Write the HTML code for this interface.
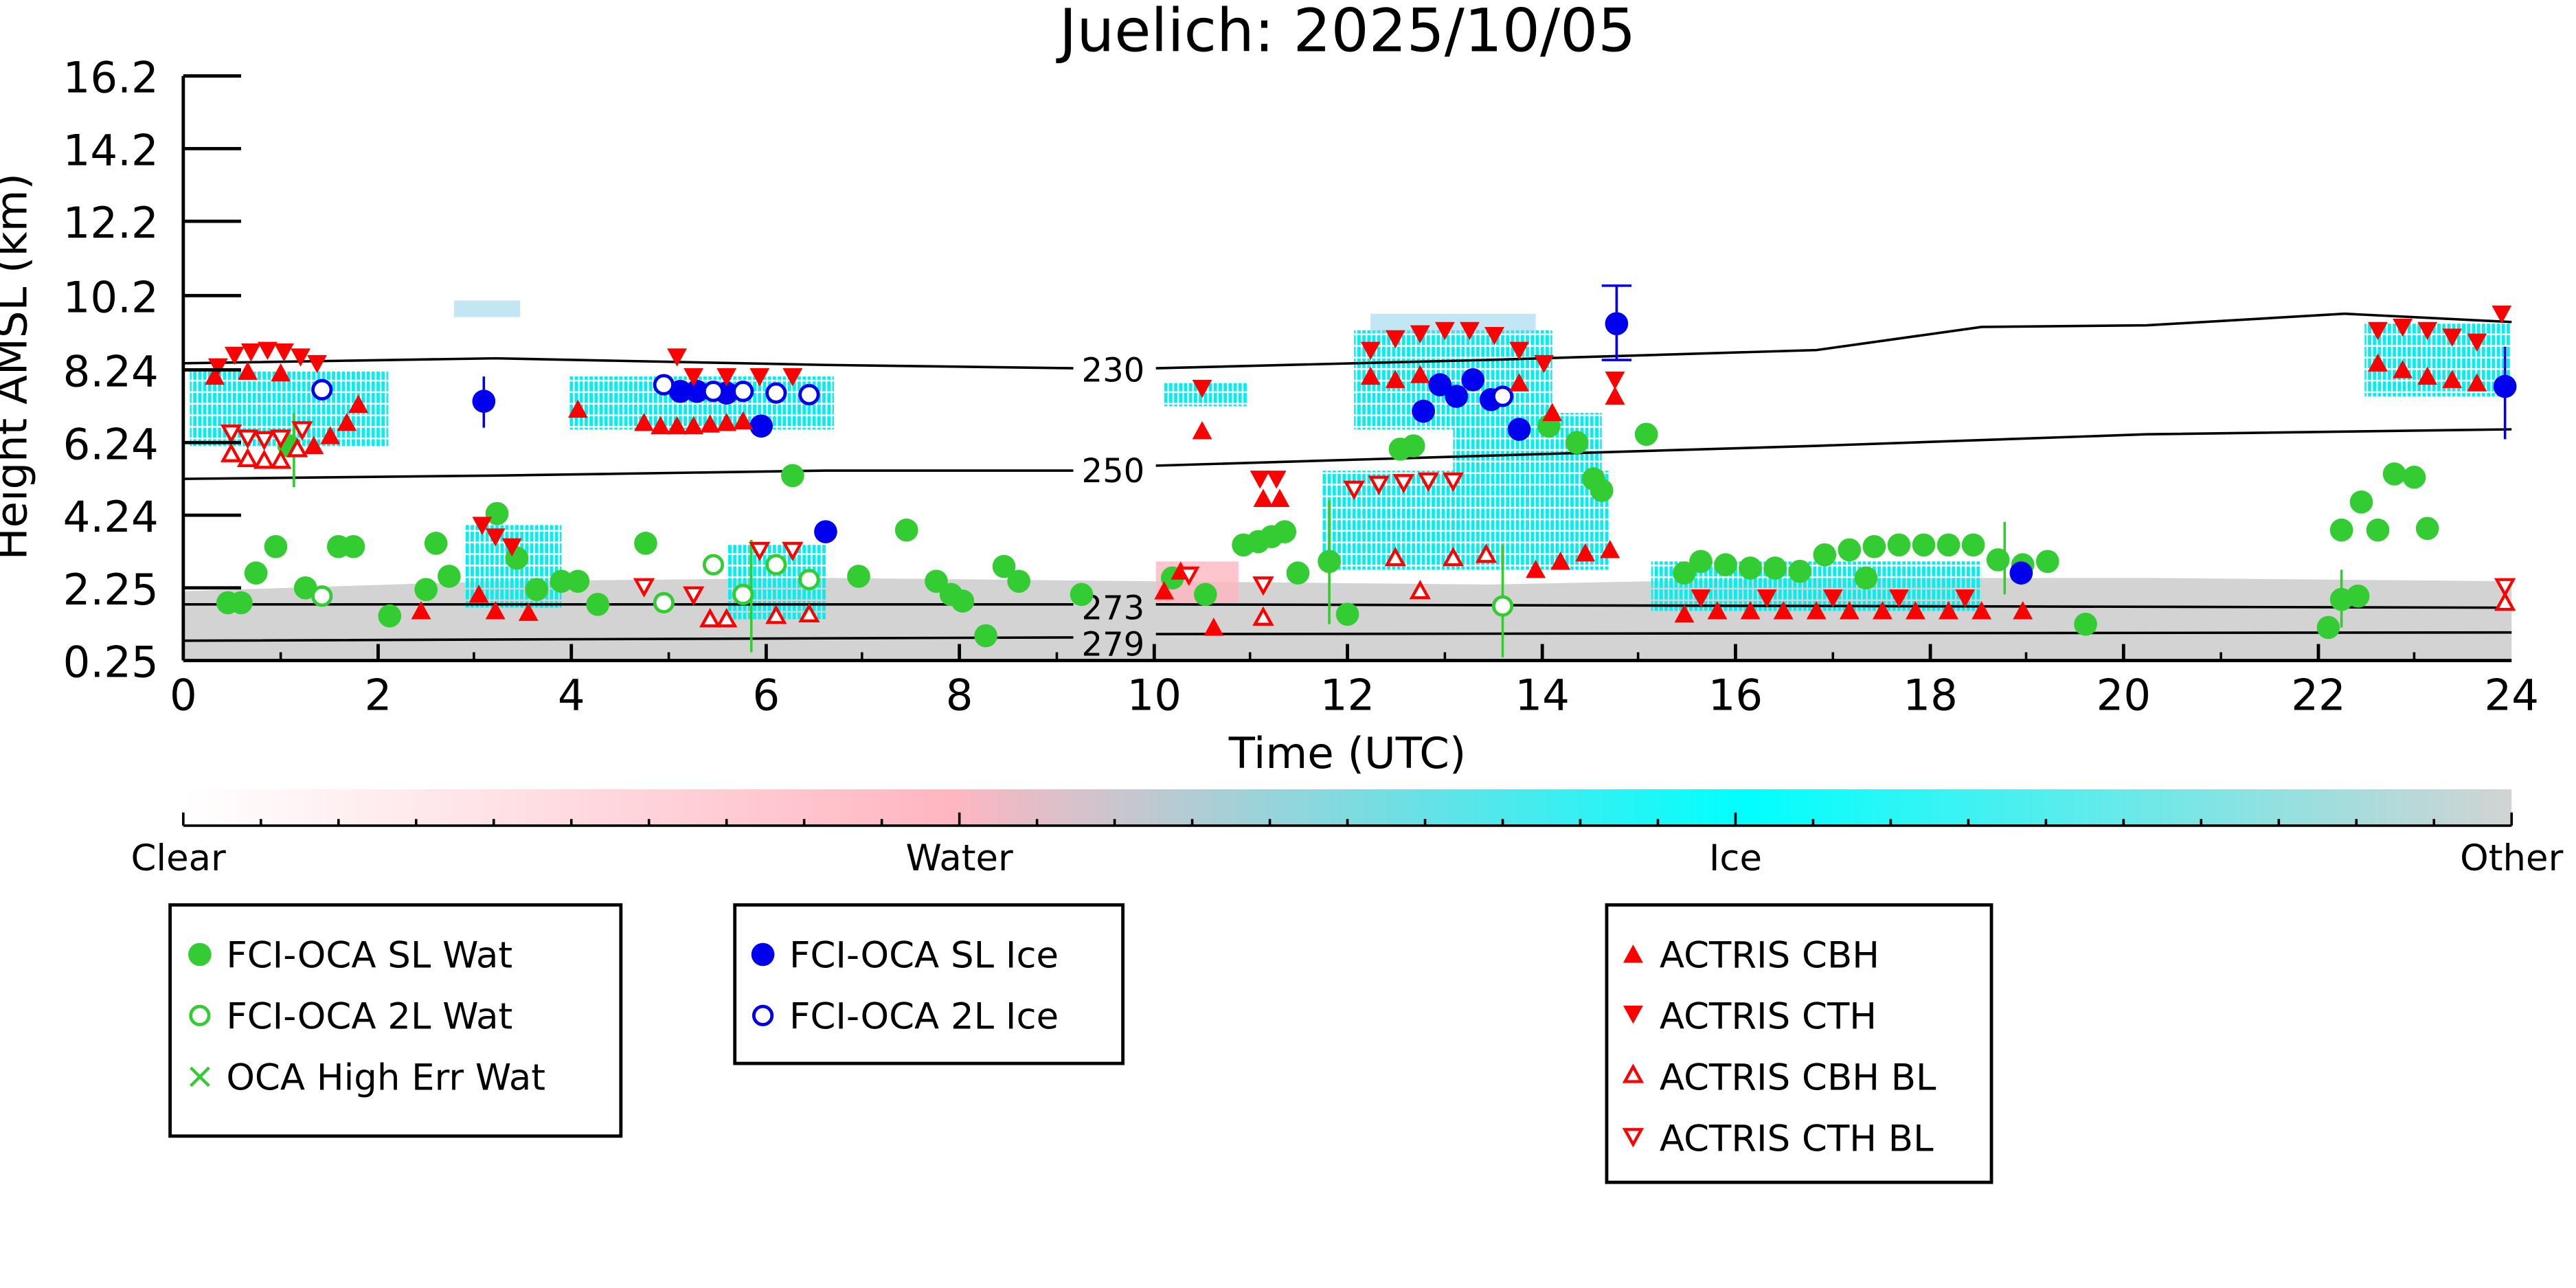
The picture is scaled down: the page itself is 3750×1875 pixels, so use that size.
<!DOCTYPE html>
<html><head><meta charset="utf-8"><style>
html,body{margin:0;padding:0;background:#fff}
svg{display:block}
text{font-family:"DejaVu Sans","Liberation Sans",sans-serif}
</style></head><body>
<svg width="3750" height="1875" viewBox="0 0 1560 780" xmlns="http://www.w3.org/2000/svg">
<defs>
<linearGradient id="cb" x1="0" x2="1" y1="0" y2="0">
<stop offset="0" stop-color="#ffffff"/><stop offset="0.33" stop-color="#ffb6c1"/>
<stop offset="0.67" stop-color="#00ffff"/><stop offset="1" stop-color="#d3d3d3"/></linearGradient>
<pattern id="cy" width="3" height="7" patternUnits="userSpaceOnUse">
<rect width="3" height="7" fill="#fff" opacity="0"/><rect width="2" height="6" fill="#00f0f0"/></pattern>
<circle id="gc" r="7" fill="#33cc33"/>
<circle id="go" r="5.5" fill="#fff" stroke="#33cc33" stroke-width="2"/>
<circle id="bc" r="7" fill="#0000ee"/>
<circle id="bo" r="5.5" fill="#fff" stroke="#0000ee" stroke-width="2"/>
<path id="rd" d="M-6,-5 L6,-5 L0,6 Z" fill="#f00"/>
<path id="ru" d="M-6,5 L6,5 L0,-6 Z" fill="#f00"/>
<path id="rdo" d="M-5,-4 L5,-4 L0,5 Z" fill="#fff" stroke="#f00" stroke-width="1.8"/>
<path id="ruo" d="M-5,4 L5,4 L0,-5 Z" fill="#fff" stroke="#f00" stroke-width="1.8"/>
</defs>
<text x="816" y="31" font-size="36" text-anchor="middle">Juelich: 2025/10/05</text>
<path d="M111,358 L300,352 L500,350 L700,352 L900,354 L1100,350 L1300,350 L1521,352 L1521,400 L111,400 Z" fill="#d3d3d3"/>
<g fill="url(#cy)">
<rect x="115" y="225" width="120" height="45"/>
<rect x="345" y="228" width="160" height="32"/>
<rect x="282" y="318" width="58" height="50"/>
<rect x="440" y="330" width="60" height="45"/>
<rect x="820" y="200" width="120" height="60"/>
<rect x="800" y="285" width="175" height="60"/>
<rect x="880" y="250" width="90" height="50"/>
<rect x="1000" y="340" width="200" height="30"/>
<rect x="1432" y="195" width="88" height="45"/>
<rect x="705" y="232" width="50" height="14"/>
</g>
<g fill="#87ceeb" opacity="0.5"><rect x="830" y="190" width="100" height="12"/><rect x="275" y="182" width="40" height="10"/></g>
<rect x="700" y="340" width="50" height="25" fill="#ffb6c1" opacity="0.8"/>
<g fill="none" stroke="#000" stroke-width="1.5">
<path d="M111,220 L300,217 L500,221 L650,223 M700,223 L900,218 L1100,212 L1200,198 L1300,197 L1420,190 L1521,195"/>
<path d="M111,290 L300,288 L500,285 L650,285 M700,282 L900,276 L1100,270 L1300,263 L1521,260"/>
<path d="M111,366 L650,366 M700,366 L1521,368"/>
<path d="M111,388 L650,386 M700,384 L1521,383"/>
</g>
<g font-size="20"><text x="655" y="231">230</text><text x="655" y="292">250</text><text x="655" y="375">273</text><text x="655" y="397">279</text></g>
<g stroke="#33cc33" stroke-width="1.5">
<line x1="178" y1="250" x2="178" y2="295"/><line x1="805" y1="303" x2="805" y2="378"/><line x1="910" y1="330" x2="910" y2="398"/>
<line x1="1418" y1="345" x2="1418" y2="380"/><line x1="1214" y1="316" x2="1214" y2="360"/><line x1="455" y1="327" x2="455" y2="395"/>
</g>
<g stroke="#0000ee" stroke-width="1.5"><line x1="293" y1="228" x2="293" y2="259"/><line x1="979" y1="173" x2="979" y2="218"/><line x1="1517" y1="210" x2="1517" y2="266"/>
<line x1="970" y1="173" x2="988" y2="173"/><line x1="970" y1="218" x2="988" y2="218"/></g>
<g>
<use href="#gc" x="138" y="365"/><use href="#gc" x="146" y="365"/><use href="#gc" x="155" y="347"/><use href="#gc" x="167" y="331"/><use href="#gc" x="185" y="356"/>
<use href="#gc" x="205" y="331"/><use href="#gc" x="214" y="331"/><use href="#gc" x="236" y="373"/><use href="#gc" x="258" y="357"/><use href="#gc" x="264" y="329"/>
<use href="#gc" x="272" y="349"/><use href="#gc" x="301" y="311"/><use href="#gc" x="313" y="338"/><use href="#gc" x="325" y="357"/><use href="#gc" x="340" y="352"/>
<use href="#gc" x="350" y="352"/><use href="#gc" x="362" y="366"/><use href="#gc" x="391" y="329"/><use href="#gc" x="480" y="288"/><use href="#gc" x="520" y="349"/><use href="#gc" x="549" y="321"/>
<use href="#gc" x="567" y="352"/><use href="#gc" x="576" y="360"/><use href="#gc" x="583" y="364"/><use href="#gc" x="597" y="385"/><use href="#gc" x="608" y="343"/><use href="#gc" x="617" y="352"/>
<use href="#gc" x="655" y="360"/><use href="#gc" x="175" y="270"/><use href="#gc" x="753" y="330"/><use href="#gc" x="762" y="328"/><use href="#gc" x="770" y="325"/><use href="#gc" x="778" y="322"/>
<use href="#gc" x="786" y="347"/><use href="#gc" x="805" y="340"/><use href="#gc" x="816" y="372"/><use href="#gc" x="848" y="272"/><use href="#gc" x="856" y="270"/><use href="#gc" x="938" y="258"/>
<use href="#gc" x="955" y="268"/><use href="#gc" x="965" y="290"/><use href="#gc" x="970" y="297"/><use href="#gc" x="997" y="263"/><use href="#gc" x="1020" y="347"/><use href="#gc" x="1030" y="340"/>
<use href="#gc" x="1045" y="342"/><use href="#gc" x="1060" y="344"/><use href="#gc" x="1075" y="344"/><use href="#gc" x="1090" y="346"/><use href="#gc" x="1105" y="336"/><use href="#gc" x="1120" y="333"/>
<use href="#gc" x="1135" y="331"/><use href="#gc" x="1150" y="330"/><use href="#gc" x="1165" y="330"/><use href="#gc" x="1180" y="330"/><use href="#gc" x="1195" y="330"/><use href="#gc" x="1210" y="339"/>
<use href="#gc" x="1225" y="342"/><use href="#gc" x="1240" y="340"/><use href="#gc" x="1263" y="378"/><use href="#gc" x="1410" y="380"/><use href="#gc" x="1418" y="363"/>
<use href="#gc" x="1428" y="361"/><use href="#gc" x="1418" y="321"/><use href="#gc" x="1430" y="304"/><use href="#gc" x="1440" y="321"/><use href="#gc" x="1450" y="287"/><use href="#gc" x="1462" y="289"/><use href="#gc" x="1470" y="320"/>
<use href="#gc" x="710" y="350"/><use href="#gc" x="730" y="360"/><use href="#gc" x="1130" y="350"/>
</g>
<g><use href="#go" x="195" y="361"/><use href="#go" x="402" y="365"/><use href="#go" x="432" y="342"/><use href="#go" x="450" y="360"/><use href="#go" x="470" y="342"/><use href="#go" x="490" y="351"/><use href="#go" x="910" y="367"/></g>
<g><use href="#bc" x="293" y="243"/><use href="#bc" x="461" y="258"/><use href="#bc" x="500" y="322"/><use href="#bc" x="862" y="249"/><use href="#bc" x="872" y="233"/>
<use href="#bc" x="882" y="240"/><use href="#bc" x="892" y="230"/><use href="#bc" x="903" y="242"/><use href="#bc" x="920" y="260"/><use href="#bc" x="979" y="196"/><use href="#bc" x="1224" y="347"/>
<use href="#bc" x="1517" y="234"/><use href="#bc" x="412" y="237"/><use href="#bc" x="422" y="237"/><use href="#bc" x="440" y="238"/>
<use href="#bo" x="195" y="236"/><use href="#bo" x="402" y="233"/><use href="#bo" x="432" y="237"/><use href="#bo" x="450" y="237"/><use href="#bo" x="470" y="238"/><use href="#bo" x="490" y="239"/><use href="#bo" x="910" y="240"/></g>
<g>
<use href="#rd" x="132" y="222"/><use href="#rd" x="142" y="215"/><use href="#rd" x="152" y="213"/><use href="#rd" x="162" y="212"/><use href="#rd" x="172" y="213"/><use href="#rd" x="182" y="216"/><use href="#rd" x="192" y="220"/>
<use href="#ru" x="130" y="228"/><use href="#ru" x="150" y="225"/><use href="#ru" x="170" y="226"/><use href="#ru" x="190" y="270"/><use href="#ru" x="200" y="264"/><use href="#ru" x="210" y="256"/><use href="#ru" x="217" y="245"/>
<use href="#ruo" x="140" y="275"/><use href="#ruo" x="150" y="278"/><use href="#ruo" x="160" y="279"/><use href="#ruo" x="170" y="279"/><use href="#ruo" x="180" y="272"/>
<use href="#rdo" x="140" y="262"/><use href="#rdo" x="150" y="265"/><use href="#rdo" x="160" y="266"/><use href="#rdo" x="170" y="265"/><use href="#rdo" x="183" y="260"/>
<use href="#rd" x="410" y="216"/><use href="#ru" x="350" y="248"/><use href="#ru" x="390" y="256"/><use href="#ru" x="400" y="258"/><use href="#ru" x="410" y="258"/><use href="#ru" x="420" y="258"/><use href="#ru" x="430" y="257"/><use href="#ru" x="440" y="256"/><use href="#ru" x="450" y="255"/>
<use href="#rd" x="420" y="228"/><use href="#rd" x="440" y="228"/><use href="#rd" x="460" y="228"/><use href="#rd" x="480" y="228"/>
<use href="#ru" x="290" y="360"/><use href="#ru" x="300" y="370"/><use href="#ru" x="320" y="371"/><use href="#ru" x="255" y="370"/><use href="#ru" x="728" y="261"/><use href="#rd" x="728" y="235"/>
<use href="#rd" x="292" y="318"/><use href="#rd" x="300" y="325"/><use href="#rd" x="310" y="331"/>
<use href="#rdo" x="390" y="355"/><use href="#rdo" x="420" y="360"/><use href="#rdo" x="460" y="333"/><use href="#rdo" x="480" y="333"/><use href="#ruo" x="430" y="375"/><use href="#ruo" x="440" y="375"/><use href="#ruo" x="470" y="373"/><use href="#ruo" x="490" y="372"/>
<use href="#ru" x="705" y="358"/><use href="#ru" x="715" y="346"/><use href="#ru" x="735" y="380"/><use href="#rdo" x="720" y="348"/><use href="#rdo" x="765" y="354"/><use href="#ruo" x="765" y="374"/>
<use href="#rd" x="763" y="290"/><use href="#rd" x="773" y="290"/><use href="#ru" x="765" y="302"/><use href="#ru" x="775" y="302"/>
<use href="#rd" x="830" y="212"/><use href="#rd" x="845" y="205"/><use href="#rd" x="860" y="202"/><use href="#rd" x="875" y="200"/><use href="#rd" x="890" y="200"/><use href="#rd" x="905" y="203"/><use href="#rd" x="920" y="212"/><use href="#rd" x="935" y="220"/>
<use href="#ru" x="830" y="228"/><use href="#ru" x="845" y="230"/><use href="#ru" x="860" y="227"/><use href="#ru" x="920" y="232"/><use href="#ru" x="940" y="250"/>
<use href="#rdo" x="820" y="296"/><use href="#rdo" x="835" y="293"/><use href="#rdo" x="850" y="292"/><use href="#rdo" x="865" y="291"/><use href="#rdo" x="880" y="291"/>
<use href="#ruo" x="845" y="338"/><use href="#ruo" x="860" y="358"/><use href="#ruo" x="880" y="338"/><use href="#ruo" x="900" y="336"/>
<use href="#ru" x="930" y="345"/><use href="#ru" x="945" y="340"/><use href="#ru" x="960" y="335"/><use href="#ru" x="975" y="333"/><use href="#rd" x="978" y="230"/><use href="#ru" x="978" y="240"/>
<use href="#ru" x="1020" y="372"/><use href="#ru" x="1040" y="370"/><use href="#ru" x="1060" y="370"/><use href="#ru" x="1080" y="370"/><use href="#ru" x="1100" y="370"/><use href="#ru" x="1120" y="370"/><use href="#ru" x="1140" y="370"/><use href="#ru" x="1160" y="370"/><use href="#ru" x="1180" y="370"/><use href="#ru" x="1200" y="370"/><use href="#ru" x="1225" y="370"/>
<use href="#rd" x="1030" y="362"/><use href="#rd" x="1070" y="362"/><use href="#rd" x="1110" y="362"/><use href="#rd" x="1150" y="362"/><use href="#rd" x="1190" y="362"/>
<use href="#rd" x="1440" y="200"/><use href="#rd" x="1455" y="198"/><use href="#rd" x="1470" y="200"/><use href="#rd" x="1485" y="204"/><use href="#rd" x="1500" y="207"/><use href="#rd" x="1515" y="190"/>
<use href="#ru" x="1440" y="220"/><use href="#ru" x="1455" y="224"/><use href="#ru" x="1470" y="228"/><use href="#ru" x="1485" y="230"/><use href="#ru" x="1500" y="232"/>
<use href="#rdo" x="1517" y="355"/><use href="#ruo" x="1517" y="365"/>
</g>
<g stroke="#000" stroke-width="2" fill="none">
<line x1="111" y1="46" x2="111" y2="400"/><line x1="111" y1="400" x2="1521" y2="400"/>
<path d="M111,46h35M111,90h35M111,134h35M111,179h35M111,224h35M111,268h35M111,312h35M111,356h35"/>
<path d="M229,400v-10M346,400v-10M464,400v-10M581,400v-10M699,400v-10M816,400v-10M934,400v-10M1051,400v-10M1169,400v-10M1286,400v-10M1404,400v-10"/>
<path d="M170,400v-5M287,400v-5M405,400v-5M522,400v-5M640,400v-5M757,400v-5M875,400v-5M992,400v-5M1110,400v-5M1227,400v-5M1345,400v-5M1462,400v-5" stroke-width="1.5"/>
</g>
<g font-size="26" text-anchor="end">
<text x="96" y="56">16.2</text><text x="96" y="100">14.2</text><text x="96" y="144">12.2</text><text x="96" y="189">10.2</text><text x="96" y="234">8.24</text><text x="96" y="278">6.24</text><text x="96" y="322">4.24</text><text x="96" y="366">2.25</text><text x="96" y="410">0.25</text>
</g>
<text transform="translate(16,222) rotate(-90)" font-size="26" text-anchor="middle">Height AMSL (km)</text>
<g font-size="26" text-anchor="middle">
<text x="111" y="430">0</text><text x="229" y="430">2</text><text x="346" y="430">4</text><text x="464" y="430">6</text><text x="581" y="430">8</text><text x="699" y="430">10</text><text x="816" y="430">12</text><text x="934" y="430">14</text><text x="1051" y="430">16</text><text x="1169" y="430">18</text><text x="1286" y="430">20</text><text x="1404" y="430">22</text><text x="1521" y="430">24</text>
<text x="816" y="465">Time (UTC)</text>
</g>
<rect x="111" y="478" width="1410" height="22" fill="url(#cb)"/>
<g stroke="#000" stroke-width="1.5"><line x1="111" y1="500" x2="1521" y2="500"/>
<path d="M111,500v-8M581,500v-8M1051,500v-8M1521,500v-8"/>
<path d="M158,500v-4M205,500v-4M252,500v-4M299,500v-4M346,500v-4M393,500v-4M440,500v-4M487,500v-4M534,500v-4M628,500v-4M675,500v-4M722,500v-4M769,500v-4M816,500v-4M863,500v-4M910,500v-4M957,500v-4M1004,500v-4M1098,500v-4M1145,500v-4M1192,500v-4M1239,500v-4M1286,500v-4M1333,500v-4M1380,500v-4M1427,500v-4M1474,500v-4"/></g>
<g font-size="22" text-anchor="middle"><text x="108" y="527">Clear</text><text x="581" y="527">Water</text><text x="1051" y="527">Ice</text><text x="1521" y="527">Other</text></g>
<g fill="none" stroke="#000" stroke-width="2">
<rect x="103" y="548" width="273" height="140"/><rect x="445" y="548" width="235" height="96"/><rect x="973" y="548" width="233" height="168"/></g>
<g font-size="22">
<use href="#gc" x="121" y="578"/><text x="137" y="586">FCI-OCA SL Wat</text>
<use href="#go" x="121" y="615"/><text x="137" y="623">FCI-OCA 2L Wat</text>
<text x="121" y="659" fill="#33cc33" text-anchor="middle" font-size="22">×</text><text x="137" y="660">OCA High Err Wat</text>
<use href="#bc" x="462" y="578"/><text x="478" y="586">FCI-OCA SL Ice</text>
<use href="#bo" x="462" y="615"/><text x="478" y="623">FCI-OCA 2L Ice</text>
<use href="#ru" x="989" y="578"/><text x="1005" y="586">ACTRIS CBH</text>
<use href="#rd" x="989" y="614"/><text x="1005" y="623">ACTRIS CTH</text>
<use href="#ruo" x="989" y="651"/><text x="1005" y="660">ACTRIS CBH BL</text>
<use href="#rdo" x="989" y="688"/><text x="1005" y="697">ACTRIS CTH BL</text>
</g>
</svg>
</body></html>
